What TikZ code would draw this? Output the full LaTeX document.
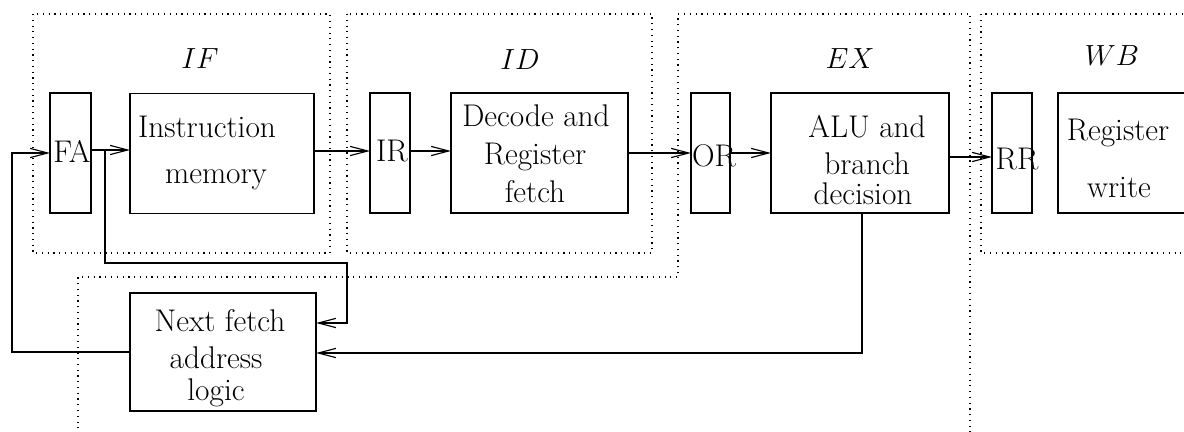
\documentclass[tikz,border=0pt]{standalone}
\usepackage{fontspec}
\usetikzlibrary{arrows.meta}
\tikzset{
  px/.style={x=0.025cm,y=-0.025cm},
  box/.style={draw,line width=0.9pt,inner sep=0pt,outer sep=0pt,minimum height=3cm},
  txt/.style={inner sep=0pt,outer sep=0pt,anchor=base,font=\fontsize{22.3}{26}\selectfont},
  mlbl/.style={inner sep=0pt,outer sep=0pt,anchor=base,font=\fontsize{20.74}{24}\selectfont},
  stage/.style={line width=0.85pt,dash pattern=on 0.85pt off 3.25pt},
  arr/.style={line width=0.8pt,-{Straight Barb[length=0.44cm,width=0.23cm,line width=0.8pt]}}
}
\begin{document}
\begin{tikzpicture}[px]
\useasboundingbox (0,0) rectangle (1184,432);
% stage regions
\draw[stage] (33,14) rectangle (330,253);
\draw[stage] (347,14) rectangle (652,253);
\draw[stage] (78,440) -- (78,277) -- (678,277) -- (678,14) -- (970,14) -- (970,440);
\draw[stage] (1200,14) -- (981,14) -- (981,253) -- (1200,253);
% stage labels
\node[mlbl] (lif) at (200,69) {$IF$};
\node[mlbl] (lid) at (520,70) {$ID$};
\node[mlbl] (lex) at (850,69) {$EX$};
\node[mlbl] (lwb) at (1112,66) {$WB$};
% boxes
\node[box,minimum width=1.025cm] (FA) at (70.5,153) {};
\node[box,minimum width=4.6cm] (IM) at (222,153.5) {};
\node[box,minimum width=1cm] (IR) at (390,153) {};
\node[box,minimum width=4.425cm] (DEC) at (539.5,153) {};
\node[box,minimum width=0.975cm] (OR) at (710.5,153) {};
\node[box,minimum width=4.45cm] (ALU) at (860,153) {};
\node[box,minimum width=1cm] (RR) at (1012,153) {};
\node[box,minimum width=3.4cm] (RW) at (1126,153) {};
\node[box,minimum width=4.65cm,minimum height=2.95cm] (NF) at (223,352) {};
% texts
\node[txt] (tfa) at (72,163) {FA};
\node[txt] (tir) at (392,162) {IR};
\node[txt] (tor) at (714,167) {OR};
\node[txt] (trr) at (1017,170) {RR};
\node[txt] (tim1) at (207,138) {Instruction};
\node[txt] (tim2) at (216,184) {memory};
\node[txt] (tde1) at (536,127) {Decode and};
\node[txt] (tde2) at (535,165) {Register};
\node[txt] (tde3) at (535,203) {fetch};
\node[txt] (tal1) at (867,138) {ALU and};
\node[txt] (tal2) at (867,175) {branch};
\node[txt] (tal3) at (863,205) {decision};
\node[txt] (trw1) at (1118,141) {Register};
\node[txt] (trw2) at (1119,198) {write};
\node[txt] (tnf1) at (220,332) {Next fetch};
\node[txt] (tnf2) at (216,369) {address};
\node[txt] (tnf3) at (216,400) {logic};
% connectors
\coordinate (br) at (105,150);
\coordinate (r1) at (347,263);
\coordinate (r2) at (347,323);
\coordinate (fb) at (12,352);
\draw[arr] (FA.east |- br) -- (IM.west |- br);
\draw[arr] (IM.east |- 0,151) -- (IR.west |- 0,151);
\draw[arr] (IR.east |- 0,151) -- (DEC.west |- 0,151);
\draw[arr] (DEC.east |- 0,153) -- (OR.west |- 0,153);
\draw[arr] (OR.east |- 0,153) -- (ALU.west |- 0,153);
\draw[arr] (ALU.east |- 0,157) -- (RR.west |- 0,157);
\draw[arr] (br) |- (r1) -- (r2) -- (NF.east |- r2);
\draw[arr] (ALU.south -| 862,0) |- (NF.east |- 0,353);
\draw[arr] (NF.west) -- (fb) |- (FA.west);
\end{tikzpicture}
\end{document}
